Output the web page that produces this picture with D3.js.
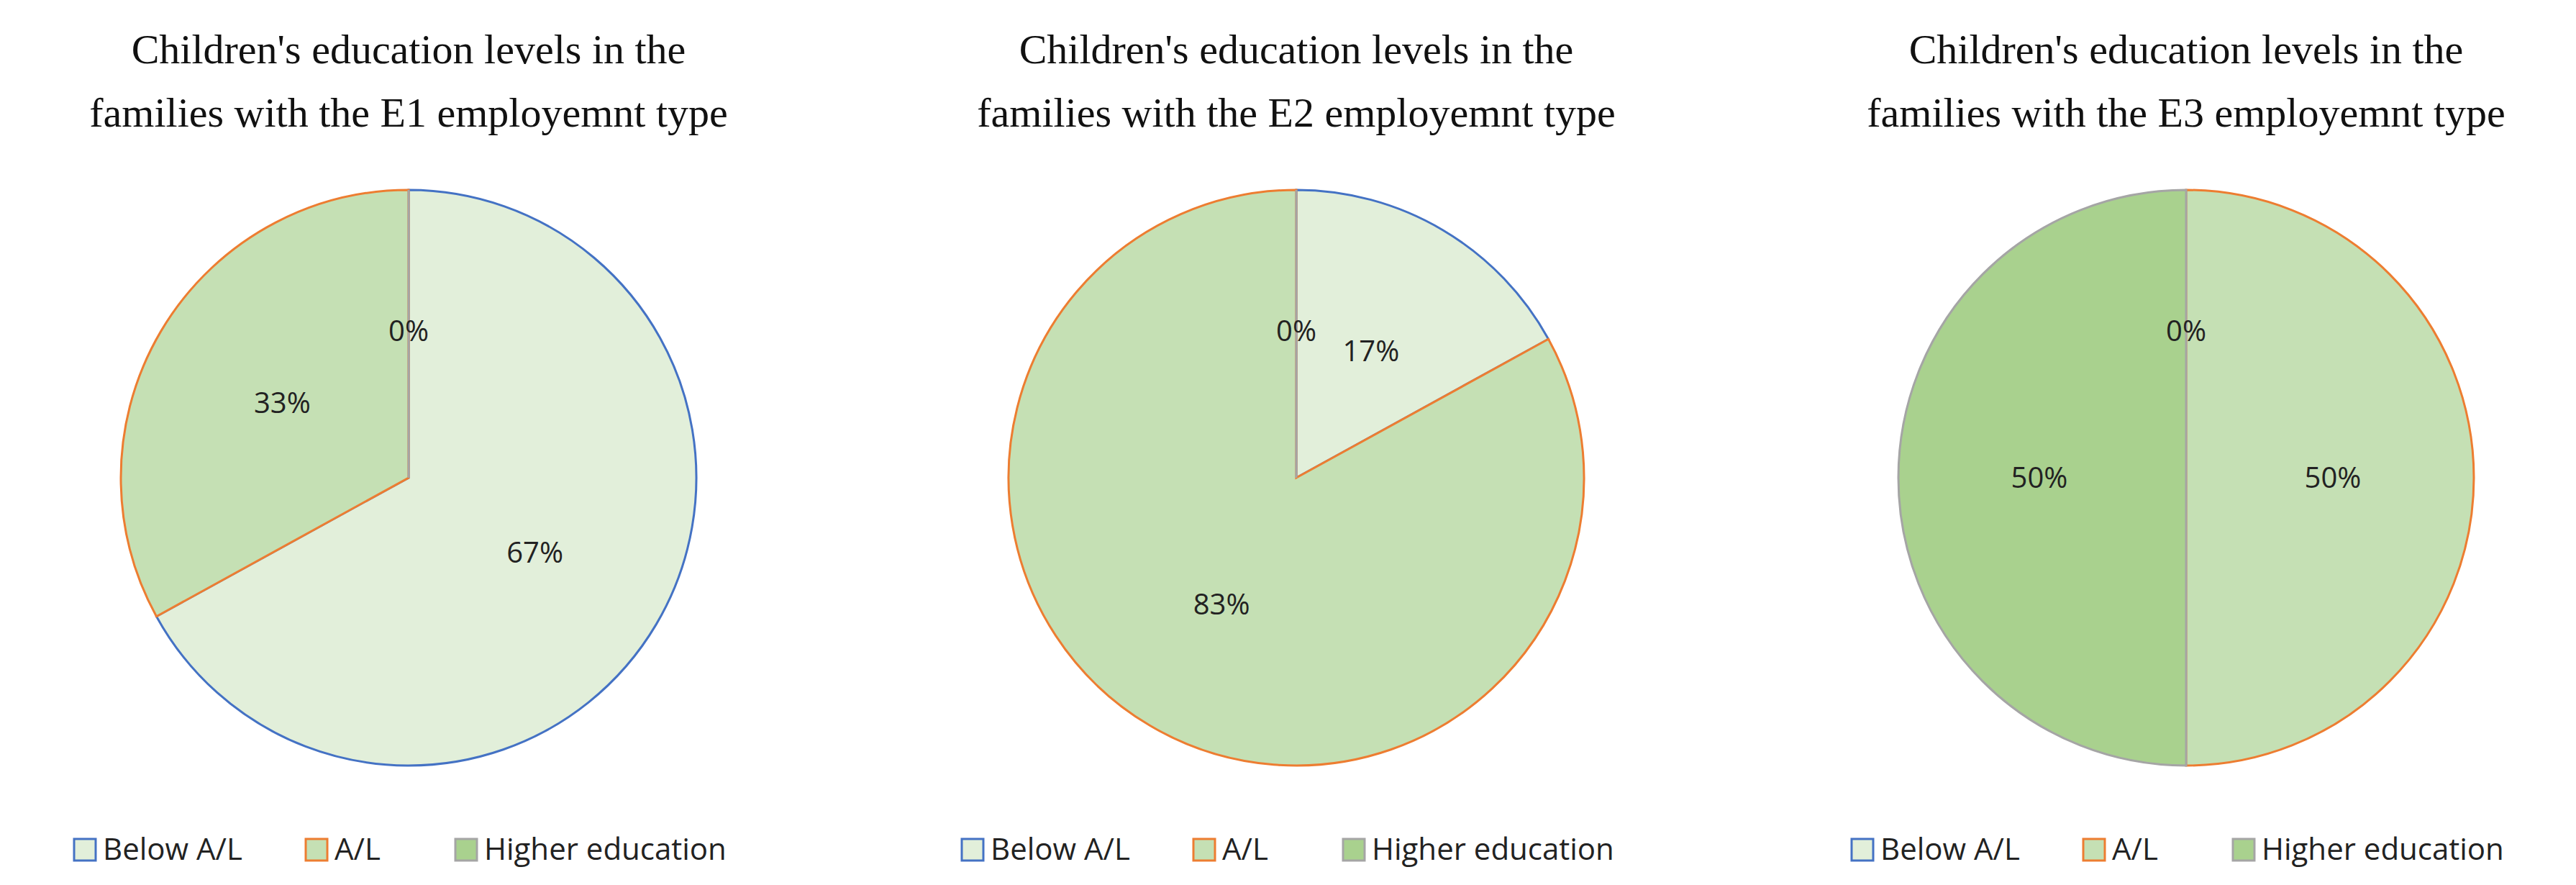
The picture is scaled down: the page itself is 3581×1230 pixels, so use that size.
<!DOCTYPE html>
<html><head><meta charset="utf-8">
<script src="https://cdn.jsdelivr.net/npm/d3@7"></script>
<style>body{margin:0;background:#fff}</style>
</head><body>
<svg id="canvas" width="3581" height="1230"></svg>
<script>
var categories = ["Below A/L", "A/L", "Higher education"];
var fills = ["#e2efda", "#c5e0b4", "#a9d18e"];
var strokes = ["#4472c4", "#ed7d31", "#a5a5a5"];
var titles = [
  ["Children's education levels in the", "families with the E1 employemnt type"],
  ["Children's education levels in the", "families with the E2 employemnt type"],
  ["Children's education levels in the", "families with the E3 employemnt type"]
];
var e1_values = [67, 33, 0];
var e2_values = [17, 83, 0];
var e3_values = [0, 50, 50];
var series = [e1_values, e2_values, e3_values];

var svg = d3.select('#canvas');
var centers_x = [568, 1802, 3039];
var center_y = 664, radius = 400;

var pie = d3.pie().sort(null).value(d => d);
var arc = d3.arc().innerRadius(0).outerRadius(radius);
var labelArc = d3.arc().innerRadius(radius*0.51).outerRadius(radius*0.51);

series.forEach(function(vals, k){
  var g = svg.append('g').attr('transform', 'translate(' + centers_x[k] + ',' + center_y + ')');

  // title
  titles[k].forEach(function(line, j){
    svg.append('text')
      .attr('x', centers_x[k]).attr('y', 88 + j*88)
      .attr('text-anchor', 'middle')
      .style('font-family', '"Liberation Serif", "DejaVu Serif", serif')
      .style('font-size', '58px').style('fill', '#111')
      .text(line);
  });

  var arcs = pie(vals);
  g.selectAll('path.slice').data(arcs).enter().append('path')
    .attr('class', 'slice')
    .attr('d', arc)
    .style('fill', (d,i) => fills[i])
    .style('stroke', (d,i) => strokes[i])
    .style('stroke-width', 3);

  g.selectAll('text.lbl').data(arcs).enter().append('text')
    .attr('class', 'lbl')
    .attr('transform', d => 'translate(' + labelArc.centroid(d) + ')')
    .attr('text-anchor', 'middle').attr('dy', '0.35em')
    .style('font-family', '"Open Sans", "Noto Sans", sans-serif')
    .style('font-size', '40px').style('fill', '#222')
    .text(d => d.data + '%');

  // legend
  var lx = centers_x[k] - 465, ly = 1196;
  var offsets = [0, 322, 530];
  categories.forEach(function(c, i){
    svg.append('rect')
      .attr('x', lx + offsets[i]).attr('y', ly - 30)
      .attr('width', 30).attr('height', 30)
      .style('fill', fills[i]).style('stroke', strokes[i]).style('stroke-width', 3);
    svg.append('text')
      .attr('x', lx + offsets[i] + 40).attr('y', ly - 1)
      .style('font-family', '"Open Sans", "Noto Sans", sans-serif')
      .style('font-size', '42px').style('fill', '#222')
      .text(c);
  });
});
</script>
</body></html>
